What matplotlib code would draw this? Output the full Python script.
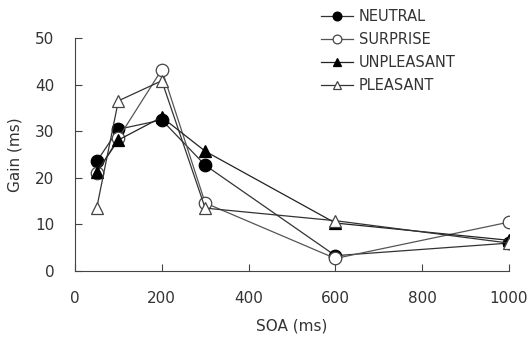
import matplotlib.pyplot as plt

# SOA values (ms) and gain per condition (ms)
soa = [50, 100, 200, 300, 600, 1000]
neutral = [23.5, 30.4, 32.4, 22.7, 3.3, 6.0]
surprise = [21.0, 28.5, 43.2, 14.6, 2.7, 10.5]
unpleasant = [21.2, 28.1, 33.0, 25.7, 10.3, 6.6]
pleasant = [13.5, 36.5, 40.8, 13.5, 10.8, 6.0]
labels = ['NEUTRAL', 'SURPRISE', 'UNPLEASANT', 'PLEASANT']

plt.rcParams['font.family'] = ['DejaVu Sans']
text_col = '#333333'

fig = plt.figure(figsize=(5.28, 3.38), dpi=100)
ax = fig.add_axes([0.142, 0.198, 0.822, 0.69])

styles = [
    dict(marker='o', mfc='black', mec='black', color='#333333'),
    dict(marker='o', mfc='white', mec='#444444', color='#555555'),
    dict(marker='^', mfc='black', mec='black', color='#222222'),
    dict(marker='^', mfc='white', mec='#444444', color='#333333'),
]
series = [neutral, surprise, unpleasant, pleasant]
for vals, lab, st in zip(series, labels, styles):
    ax.plot(soa, vals, label=lab, lw=0.9, ms=9, mew=0.9, **st)

ax.set_xlim(0, 1000)
ax.set_ylim(0, 50)
ax.set_xticks(range(0, 1001, 200))
ax.set_yticks(range(0, 51, 10))
for s in ['top', 'right']:
    ax.spines[s].set_visible(False)
for s in ['left', 'bottom']:
    ax.spines[s].set_color('#444444')
ax.tick_params(direction='in', length=5, color='#444444', labelsize=11,
               labelcolor=text_col)
ax.tick_params(axis='x', pad=14)
ax.tick_params(axis='y', pad=15)
ax.set_xlabel('SOA (ms)', fontsize=11, color=text_col, labelpad=9)
ax.set_ylabel('Gain (ms)', fontsize=11, color=text_col, labelpad=9)

leg = fig.legend(loc='upper left', bbox_to_anchor=(0.583, 1.012), frameon=False,
                 fontsize=10.5, handlelength=2.2, labelspacing=0.55,
                 handletextpad=0.4, markerscale=0.7)
for t in leg.get_texts():
    t.set_color(text_col)

fig.savefig('out.png', dpi=100)
